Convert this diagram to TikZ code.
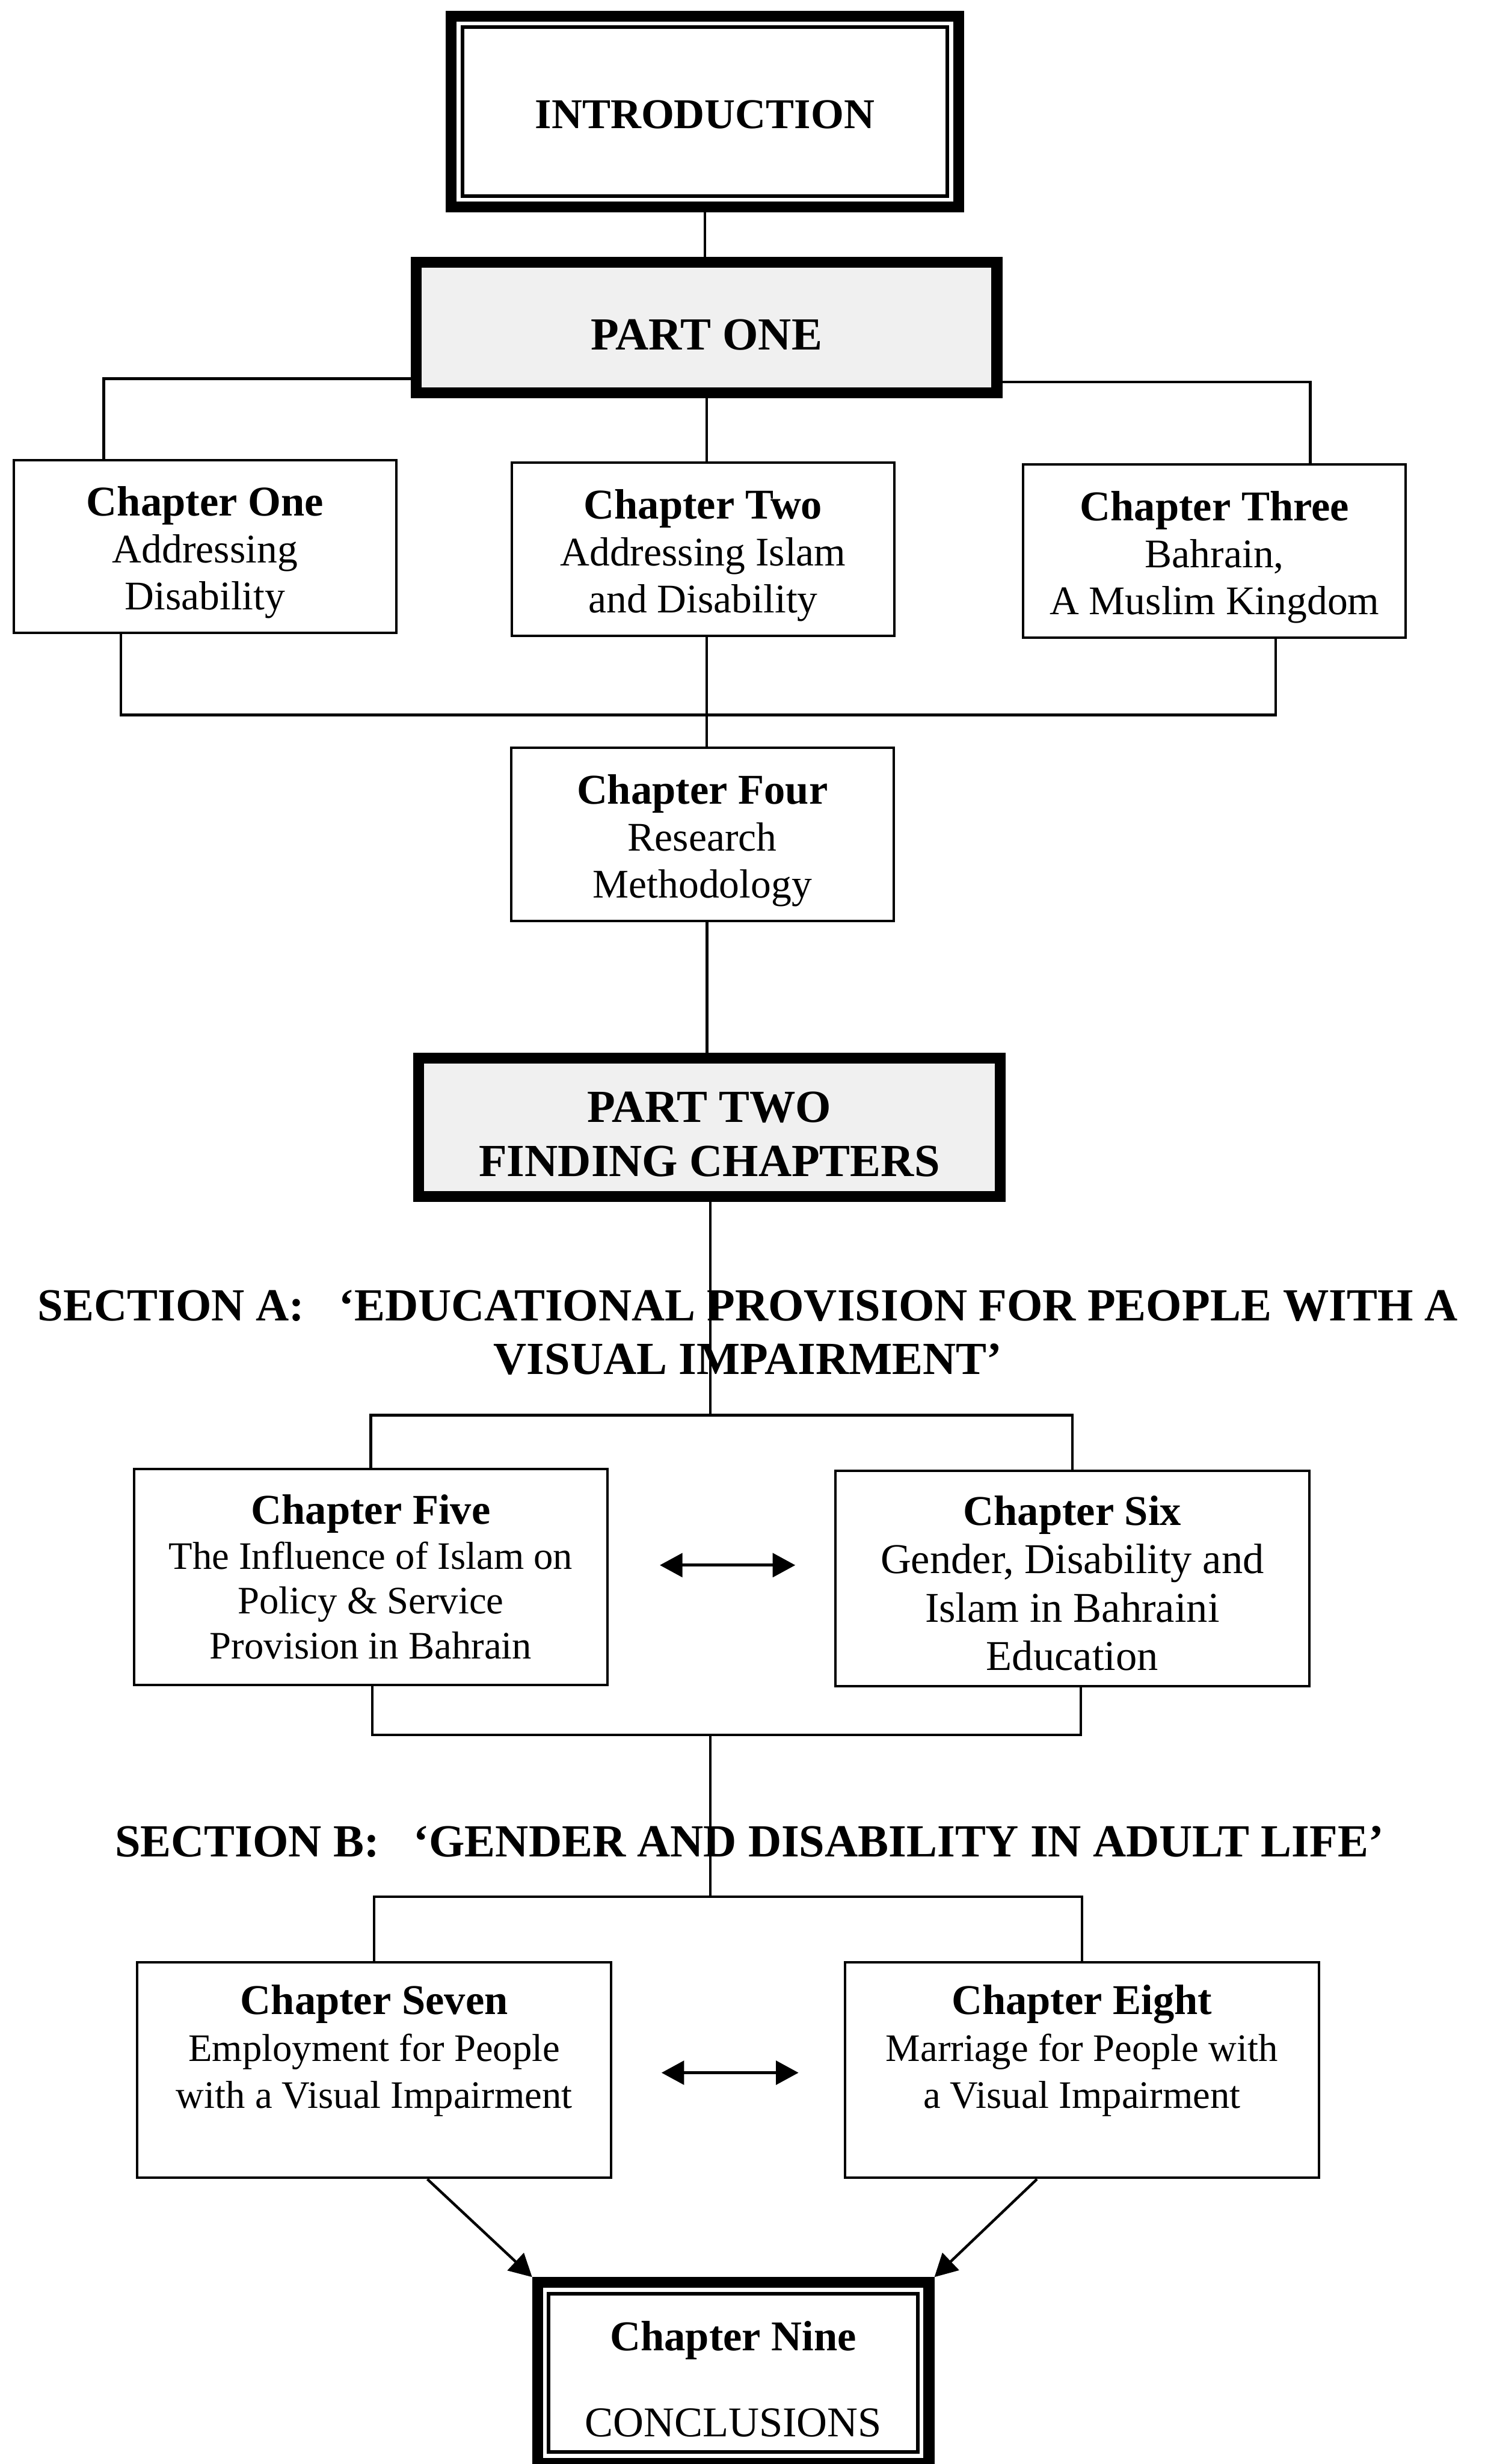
\documentclass[tikz,border=0pt]{standalone}
\usepackage{fontspec}
\setmainfont{Liberation Serif}
\usetikzlibrary{arrows.meta}

\newcommand{\ctitle}[2][11.8pt]{{\fontsize{12}{13.3}\selectfont\bfseries\rule{0pt}{#1}#2}}

\tikzset{
  chapbox/.style={draw, line width=0.7pt, minimum width=108.2pt, minimum height=48.9pt,
    inner sep=0pt, align=center, font=\fontsize{11.5}{13.3}\selectfont},
  widebox/.style={chapbox, minimum width=134pt, minimum height=61pt},
  partbox/.style={draw, line width=3.1pt, fill=gray!12, inner sep=0pt, align=center,
    font=\fontsize{13}{15.4}\selectfont\bfseries},
  dblbox/.style={draw, line width=3.1pt, inner sep=0pt, align=center,
    font=\fontsize{12}{13.3}\selectfont},
  innerframe/.style={line width=1pt},
  sectext/.style={align=center, font=\fontsize{13}{15.2}\selectfont\bfseries},
  link/.style={line width=0.75pt}
}

\begin{document}
\begin{tikzpicture}[x=0.4444pt,y=-0.4444pt,>={Triangle[length=6.4pt,width=6.7pt]}]
  \useasboundingbox (0,0) rectangle (945,1568);

  % part one
  \node[dblbox, minimum width=143.5pt, minimum height=54pt, font=\fontsize{12}{13.3}\selectfont\bfseries]
    (intro) at (448.6,71) {\rule{0pt}{9.8pt}INTRODUCTION};
  \draw[innerframe] ([shift={(10.6,10.6)}]intro.north west) rectangle ([shift={(-10.6,-10.6)}]intro.south east);
  \node[partbox, minimum width=164.2pt, minimum height=37pt] (partone) at (449.75,208.4) {\rule{0pt}{12.8pt}PART ONE};
  \node[chapbox] (ch1) at (130.5,347.75) {\ctitle{Chapter One}\\Addressing\\Disability};
  \node[chapbox] (ch2) at (447.5,349.5) {\ctitle{Chapter Two}\\Addressing Islam\\and Disability};
  \node[chapbox] (ch3) at (773,350.6) {\ctitle{Chapter Three}\\Bahrain,\\A Muslim Kingdom};
  \node[chapbox] (ch4) at (447,531) {\ctitle{Chapter Four}\\Research\\Methodology};

  \draw[link] (intro.south) -- (intro.south |- partone.north);
  \draw[link] (partone.west |- 0,241) -| (66,0 |- ch1.north);
  \draw[link] (partone.east |- 0,243) -| (834,0 |- ch3.north);
  \draw[link] (449.8,0 |- partone.south) -- (449.8,0 |- ch2.north);
  \draw[link] (77,0 |- ch1.south) -- (77,455) -- (812,455) -- (812,0 |- ch3.south);
  \draw[link] (449.8,0 |- ch2.south) -- (449.8,0 |- ch4.north);
  \draw[link] (450,0 |- ch4.south) -- (450,0 |- 0,670);

  % part two
  \node[partbox, minimum width=164.4pt, minimum height=39.1pt] (parttwo) at (451.5,717.5)
    {\rule{0pt}{12.4pt}PART TWO\\FINDING CHAPTERS};
  \node[sectext] (secA) at (476,848) {SECTION A:\ \ \ ‘EDUCATIONAL PROVISION FOR PEOPLE WITH A\\VISUAL IMPAIRMENT’};
  \node[widebox, font=\fontsize{11}{12.7}\selectfont] (ch5) at (236,1003.5)
    {\ctitle[0pt]{Chapter Five}\\The Influence of Islam on\\Policy \& Service\\Provision in Bahrain};
  \node[widebox, font=\fontsize{12}{13.7}\selectfont] (ch6) at (682.5,1004.5)
    {\ctitle[11pt]{Chapter Six}\\Gender, Disability and\\Islam in Bahraini\\Education};
  \node[sectext] (secB) at (477,1172) {SECTION B:\ \ \ ‘GENDER AND DISABILITY IN ADULT LIFE’};
  \node[widebox, font=\fontsize{11}{13.3}\selectfont] (ch7) at (238.2,1317.3)
    {\ctitle{Chapter Seven}\\Employment for People\\with a Visual Impairment\\[3.5pt]\mbox{}};
  \node[widebox, font=\fontsize{11}{13.3}\selectfont] (ch8) at (688.6,1317.3)
    {\ctitle{Chapter Eight}\\Marriage for People with\\a Visual Impairment\\[3.5pt]\mbox{}};
  \node[dblbox, minimum width=110.7pt, minimum height=51.1pt] (ch9) at (466.7,1510)
    {\ctitle{Chapter Nine}\\[11pt]CONCLUSIONS};
  \draw[innerframe] ([shift={(10.6,10.6)}]ch9.north west) rectangle ([shift={(-10.6,-10.6)}]ch9.south east);

  \draw[link] (452,0 |- parttwo.south) -- (452,900.5);
  \draw[link] (ch5.north) -- (236,900.5) -- (682.5,900.5) -- (ch6.north);
  \draw[link] (237,0 |- ch5.south) -- (237,1104) -- (688,1104) -- (688,0 |- ch6.south);
  \draw[link] (452,1104) -- (452,1207);
  \draw[link] (ch7.north) -- (238.2,1207) -- (688.6,1207) -- (ch8.north);
  \draw[line width=0.9pt,<->,shorten <=14.4pt,shorten >=11pt] (ch5.east |- 0,996) -- (ch6.west |- 0,996);
  \draw[line width=0.9pt,<->,shorten <=13.9pt,shorten >=12.8pt] (ch7.east |- 0,1319) -- (ch8.west |- 0,1319);
  \draw[link,->] (272,0 |- ch7.south) -- (ch9.north west);
  \draw[link,->] (660,0 |- ch8.south) -- (ch9.north east);
\end{tikzpicture}
\end{document}
